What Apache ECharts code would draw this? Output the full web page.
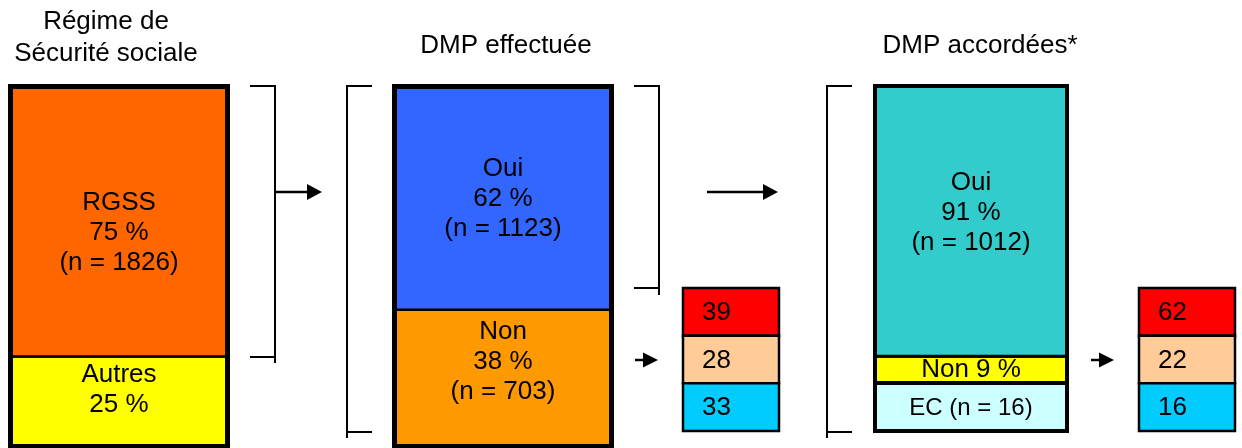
<!DOCTYPE html>
<html>
<head>
<meta charset="utf-8">
<script src="https://cdn.jsdelivr.net/npm/echarts@6/dist/echarts.min.js"></script>
<style>
  html, body { margin: 0; padding: 0; background: #ffffff; }
  #chart { width: 1242px; height: 448px; }
</style>
</head>
<body>
<div id="chart"></div>
<script>
// ---- Data (stack order: bottom segment first) ----
const regimeNames = ['Autres', 'RGSS'];
const regimePct = [25, 75];
const regimeN = [null, 1826];

const dmpNames = ['Non', 'Oui'];
const dmpPct = [38, 62];
const dmpN = [703, 1123];

const grantNames = ['Non', 'Oui'];
const grantPct = [9, 91];
const grantN = [null, 1012];

const ecLabel = 'EC';
const ecN = 16;

// Breakdown of the "Non" groups (top to bottom)
const dmpNonDetail = [39, 28, 33];
const grantNonDetail = [62, 22, 16];

const panelTitles = ['Régime de\nSécurité sociale', 'DMP effectuée', 'DMP accordées*'];

// ---- Styles ----
const FONT = '"Liberation Sans", Arial, Helvetica, sans-serif';
const regimeColors = ['#FFFF00', '#FF6600'];
const dmpColors = ['#FF9900', '#3366FF'];
const grantColors = ['#FFFF00', '#33CCCC'];
const ecColor = '#CCFFFF';
const detailColors = ['#FF0000', '#FFCC99', '#00CCFF'];

// ---- Layout (pixels, stroke centre-lines) ----
const L = {
  bar1: { left: 10.5, top: 86.5, width: 217, height: 360 },
  bar2: { left: 394.5, top: 86.5, width: 217, height: 360 },
  cells1: { left: 683, top: 288, width: 96, height: 143 },
  bar3: { left: 875, top: 86, width: 192, height: 297 },
  ec: { left: 875, top: 383, width: 192, height: 48 },
  cells2: { left: 1139, top: 288, width: 96, height: 143 }
};

const gridList = [L.bar1, L.bar2, L.cells1, L.bar3, L.ec, L.cells2];
const grids = gridList.map(g => ({ left: g.left, top: g.top, width: g.width, height: g.height, show: false }));

const xAxes = gridList.map((g, i) => ({ type: 'category', gridIndex: i, data: ['c'], show: false }));
const yAxes = [
  { type: 'value', gridIndex: 0, min: 0, max: 100, show: false },
  { type: 'value', gridIndex: 1, min: 0, max: 100, show: false },
  { type: 'category', gridIndex: 2, data: ['a', 'b', 'c'], inverse: true, show: false },
  { type: 'value', gridIndex: 3, min: 0, max: 100, show: false },
  { type: 'category', gridIndex: 4, data: ['ec'], show: false },
  { type: 'category', gridIndex: 5, data: ['a', 'b', 'c'], inverse: true, show: false }
];

function segmentText(name, pct, n, inline) {
  if (inline) return name + ' ' + pct + ' %';
  let s = name + '\n' + pct + ' %';
  if (n != null) s += '\n(n = ' + n + ')';
  return s;
}

// Stacked 100 % column: one rectangle per share, then a heavier outline
function stackedColumn(gi, names, pcts, ns, colors, opts) {
  let acc = 0;
  const data = pcts.map((p, i) => { const lo = acc; acc += p; return [0, lo, acc, i]; });
  const total = acc;
  const segments = {
    type: 'custom', xAxisIndex: gi, yAxisIndex: gi, silent: true, z: 2,
    data: data,
    renderItem: function (params, api) {
      const i = api.value(3);
      const lo = api.coord([0, api.value(1)]);
      const hi = api.coord([0, api.value(2)]);
      const bw = api.size([1, 0])[0];
      const x0 = lo[0] - bw / 2;
      return {
        type: 'group',
        children: [
          { type: 'rect', shape: { x: x0, y: hi[1], width: bw, height: lo[1] - hi[1] },
            style: { fill: colors[i], stroke: '#000', lineWidth: opts.inner } },
          { type: 'text', x: lo[0], y: (lo[1] + hi[1]) / 2 + opts.offsets[i], z2: 10,
            style: { text: segmentText(names[i], pcts[i], ns[i], opts.inline && opts.inline[i]),
                     fontSize: 26, fontFamily: FONT, lineHeight: 30, fill: '#000',
                     align: 'center', verticalAlign: 'middle' } }
        ]
      };
    }
  };
  const outline = {
    type: 'custom', xAxisIndex: gi, yAxisIndex: gi, silent: true, z: 4,
    data: [[0, 0, total]],
    renderItem: function (params, api) {
      const lo = api.coord([0, api.value(1)]);
      const hi = api.coord([0, api.value(2)]);
      const bw = api.size([1, 0])[0];
      return { type: 'rect', shape: { x: lo[0] - bw / 2, y: hi[1], width: bw, height: lo[1] - hi[1] },
               style: { fill: null, stroke: '#000', lineWidth: opts.outer } };
    }
  };
  return [segments, outline];
}

// Column of equal cells, one per value
function cellColumn(gi, values, colors, lineWidth, textLeft, fontSize, textFn) {
  return {
    type: 'custom', xAxisIndex: gi, yAxisIndex: gi, silent: true,
    data: values.map((v, i) => [0, i, v]),
    renderItem: function (params, api) {
      const row = api.value(1);
      const c = api.coord([0, row]);
      const s = api.size([1, 1]);
      const x0 = c[0] - s[0] / 2, y0 = c[1] - s[1] / 2;
      const txt = textFn(api.value(2));
      return {
        type: 'group',
        children: [
          { type: 'rect', shape: { x: x0, y: y0, width: s[0], height: s[1] },
            style: { fill: colors[row], stroke: '#000', lineWidth: lineWidth } },
          { type: 'text', x: textLeft == null ? c[0] : x0 + textLeft, y: c[1] + 1,
            style: { text: txt, fill: '#000', fontSize: fontSize, fontFamily: FONT,
                     align: textLeft == null ? 'center' : 'left', verticalAlign: 'middle' } }
        ]
      };
    }
  };
}

const series = [].concat(
  stackedColumn(0, regimeNames, regimePct, regimeN, regimeColors,
    { inner: 2.5, outer: 5, offsets: [-12, 11] }),
  stackedColumn(1, dmpNames, dmpPct, dmpN, dmpColors,
    { inner: 2.5, outer: 5, offsets: [-16, 1] }),
  [cellColumn(2, dmpNonDetail, detailColors, 2.5, 19, 26, v => String(v))],
  stackedColumn(3, grantNames, grantPct, grantN, grantColors,
    { inner: 3, outer: 4, offsets: [0, -8], inline: [true, false] }),
  [cellColumn(4, [ecN], [ecColor], 4, null, 24, v => ecLabel + ' (n = ' + v + ')')],
  [cellColumn(5, grantNonDetail, detailColors, 2.5, 19, 26, v => String(v))]
);

const chart = echarts.init(document.getElementById('chart'), null, { renderer: 'canvas' });
chart.setOption({
  animation: false,
  backgroundColor: '#ffffff',
  grid: grids,
  xAxis: xAxes,
  yAxis: yAxes,
  series: series
});

// ---- Brackets, arrows and panel titles ----
const yPix = (axis, v) => chart.convertToPixel({ yAxisIndex: axis }, v);

function bracket(xv, xEnd, top, bottom, over) {
  return [
    { type: 'polyline', shape: { points: [[xEnd, top], [xv, top], [xv, bottom + over]] },
      style: { stroke: '#000', lineWidth: 2, fill: null } },
    { type: 'line', shape: { x1: xEnd, y1: bottom, x2: xv, y2: bottom },
      style: { stroke: '#000', lineWidth: 2 } }
  ];
}

function arrow(x1, x2, y, head, half) {
  return [
    { type: 'line', shape: { x1: x1, y1: y, x2: x2 - head + 2, y2: y },
      style: { stroke: '#000', lineWidth: 2.5 } },
    { type: 'polygon', shape: { points: [[x2, y], [x2 - head, y - half], [x2 - head, y + half]] },
      style: { fill: '#000' } }
  ];
}

const colTop = 86;
const rgssBottom = Math.round(yPix(0, regimePct[0]));
const fullBottom = L.ec.top + L.ec.height + 1;
const cellsTop = L.cells1.top;

const graphics = [].concat(
  bracket(275, 250, colTop, rgssBottom, 6),
  bracket(347, 372, colTop, fullBottom, 6),
  bracket(659, 634, colTop, cellsTop, 7),
  bracket(827, 852, colTop, fullBottom, 6),
  arrow(275, 322, 192, 15, 8),
  arrow(707, 778, 192, 15, 8),
  arrow(635, 658, 360, 15, 7.5),
  arrow(1091, 1114, 360, 15, 7.5),
  [
    { type: 'text', x: 106, y: 38, style: { text: panelTitles[0], fontSize: 26, fontFamily: FONT,
      lineHeight: 32, fill: '#000', align: 'center', verticalAlign: 'middle' } },
    { type: 'text', x: 506, y: 46, style: { text: panelTitles[1], fontSize: 26, fontFamily: FONT,
      fill: '#000', align: 'center', verticalAlign: 'middle' } },
    { type: 'text', x: 980, y: 46, style: { text: panelTitles[2], fontSize: 26, fontFamily: FONT,
      fill: '#000', align: 'center', verticalAlign: 'middle' } }
  ]
);

chart.setOption({ graphic: graphics.map(g => Object.assign({ silent: true }, g)) });
</script>
</body>
</html>
